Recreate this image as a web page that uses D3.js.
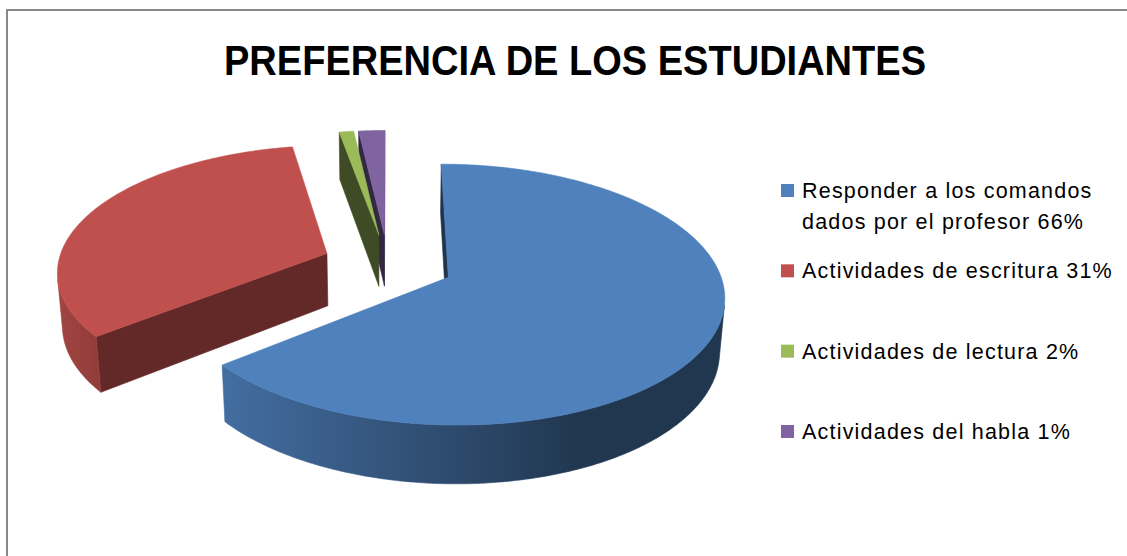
<!DOCTYPE html>
<html>
<head>
<meta charset="utf-8">
<script src="https://cdn.jsdelivr.net/npm/d3@7"></script>
<style>
  body { margin: 0; background: #fff; }
  svg { display: block; font-family: "Liberation Sans", Arial, sans-serif; }
</style>
</head>
<body>
<div class="chart"></div>
<script>
const width = 1127;
const height = 556;

const titleText = "PREFERENCIA DE LOS ESTUDIANTES";
const categories = [
  "Responder a los comandos dados por el profesor 66%",
  "Actividades de escritura 31%",
  "Actividades de lectura 2%",
  "Actividades del habla 1%"
];
// slice sizes as measured on the picture (the typed % in the labels differ a bit)
const values = [64.2, 33, 1, 1.8];
const colors = ["#4F81BD", "#C0504D", "#9BBB59", "#8064A2"];

// 3d view of the pie (unit radius disc, y up, z towards the viewer)
const view = { cx: 388, cy: 264, dist: 6.8, focal: 1830, tilt: 27.6 * Math.PI / 180 };
const thickness = 0.225;
const explode = 0.245;

const sinT = Math.sin(view.tilt), cosT = Math.cos(view.tilt);
const camera = { x: 0, y: view.dist * sinT, z: view.dist * cosT };

function project(p) {
  const depth = view.dist - (p.y * sinT + p.z * cosT);
  return [view.cx + view.focal * p.x / depth,
          view.cy - view.focal * (p.y * cosT - p.z * sinT) / depth];
}

function facing(p, n) {
  return n.x * (camera.x - p.x) + n.y * (camera.y - p.y) + n.z * (camera.z - p.z) > 0;
}

function shade(color, f) {
  const c = d3.rgb(color);
  return d3.rgb(c.r * f, c.g * f, c.b * f).formatHex();
}

const polygon = d3.line().curve(d3.curveLinearClosed);

let svg = d3.select(".chart")
  .append("svg")
  .attr("width", width)
  .attr("height", height);

const defs = svg.append("defs");

// chart frame (right and bottom edges fall outside the picture)
svg.append("rect")
  .attr("x", 7)
  .attr("y", 10)
  .attr("width", width + 20)
  .attr("height", height + 20)
  .attr("fill", "none")
  .attr("stroke", "#898989")
  .attr("stroke-width", 2);

svg.append("text")
  .attr("x", 575)
  .attr("y", 75)
  .attr("text-anchor", "middle")
  .attr("font-size", 42)
  .attr("font-weight", "bold")
  .attr("textLength", 702)
  .attr("lengthAdjust", "spacingAndGlyphs")
  .attr("fill", "#000")
  .text(titleText);

// build the slices
const arcs = d3.pie().sort(null)(values);

const slices = arcs.map((a, i) => {
  const a0 = a.startAngle, a1 = a.endAngle;
  const mid = (a0 + a1) / 2;
  const ox = explode * Math.sin(mid);
  const oz = -explode * Math.cos(mid);
  const rim = (t, y) => ({ x: ox + Math.sin(t), y: y, z: oz - Math.cos(t) });
  const center = y => ({ x: ox, y: y, z: oz });
  const angles = d3.range(a0, a1, Math.PI / 360).concat([a1]);
  return {
    i, a0, a1, rim, center, angles,
    order: oz - 0.5 * Math.cos(mid)
  };
});

slices.sort((a, b) => a.order - b.order);

const pieGroup = svg.append("g").attr("class", "pie");

slices.forEach(s => {
  const color = colors[s.i];
  const g = pieGroup.append("g");
  const topPts = [s.center(0)].concat(s.angles.map(t => s.rim(t, 0))).map(project);
  const xExtent = d3.extent(topPts, p => p[0]);

  // side gradient, light on the left, dark on the right
  const grad = defs.append("linearGradient")
    .attr("id", "side-" + s.i)
    .attr("gradientUnits", "userSpaceOnUse")
    .attr("x1", xExtent[0]).attr("y1", 0)
    .attr("x2", xExtent[1]).attr("y2", 0);
  grad.append("stop").attr("offset", 0).attr("stop-color", shade(color, 0.85));
  grad.append("stop").attr("offset", 0.72).attr("stop-color", shade(color, 0.42));
  grad.append("stop").attr("offset", 1).attr("stop-color", shade(color, 0.42));

  // radial faces
  [[s.a0, -1], [s.a1, 1]].forEach(([t, sign]) => {
    const n = { x: sign * Math.cos(t), y: 0, z: sign * Math.sin(t) };
    const c = s.center(0);
    const probe = { x: c.x + 0.5 * Math.sin(t), y: -thickness / 2, z: c.z - 0.5 * Math.cos(t) };
    if (!facing(probe, n)) return;
    const pts = [s.center(0), s.rim(t, 0), s.rim(t, -thickness), s.center(-thickness)].map(project);
    const fill = shade(color, 0.47 + 0.07 * n.x);
    g.append("path")
      .attr("d", polygon(pts))
      .attr("fill", fill)
      .attr("stroke", fill)
      .attr("stroke-width", 0.6)
      .attr("stroke-linejoin", "round");
  });

  // outer curved side, only the runs facing the camera
  let run = [];
  const runs = [];
  s.angles.forEach(t => {
    const vis = facing(s.rim(t, 0), { x: Math.sin(t), y: 0, z: -Math.cos(t) });
    if (vis) run.push(t);
    else if (run.length) { runs.push(run); run = []; }
  });
  if (run.length) runs.push(run);

  runs.filter(r => r.length > 1).forEach(r => {
    const pts = r.map(t => s.rim(t, 0))
      .concat(r.slice().reverse().map(t => s.rim(t, -thickness)))
      .map(project);
    g.append("path")
      .attr("d", polygon(pts))
      .attr("fill", `url(#side-${s.i})`)
      .attr("stroke", `url(#side-${s.i})`)
      .attr("stroke-width", 0.6)
      .attr("stroke-linejoin", "round");
  });

  // top face
  g.append("path")
    .attr("d", polygon(topPts))
    .attr("fill", color)
    .attr("stroke", color)
    .attr("stroke-width", 0.6)
    .attr("stroke-linejoin", "round");
});

// legend
const legendX = 802;
const legendY = d3.scalePoint()
  .domain(d3.range(categories.length))
  .range([198, 439]);
const lineHeight = 31;
const maxLineWidth = 330;

const legend = svg.append("g").attr("class", "legend");

categories.forEach((label, i) => {
  const item = legend.append("g");
  item.append("rect")
    .attr("x", legendX - 21)
    .attr("y", legendY(i) - 14)
    .attr("width", 13)
    .attr("height", 13)
    .attr("fill", colors[i]);

  const text = item.append("text")
    .attr("x", legendX)
    .attr("y", legendY(i))
    .attr("font-size", 21.5)
    .attr("letter-spacing", 1.2)
    .attr("fill", "#000");

  // greedy word wrap
  const words = label.split(" ");
  let line = [];
  let tspan = text.append("tspan").attr("x", legendX).attr("dy", 0);
  words.forEach(w => {
    line.push(w);
    tspan.text(line.join(" "));
    if (tspan.node().getComputedTextLength() > maxLineWidth && line.length > 1) {
      line.pop();
      tspan.text(line.join(" "));
      line = [w];
      tspan = text.append("tspan").attr("x", legendX).attr("dy", lineHeight).text(w);
    }
  });
});
</script>
</body>
</html>
